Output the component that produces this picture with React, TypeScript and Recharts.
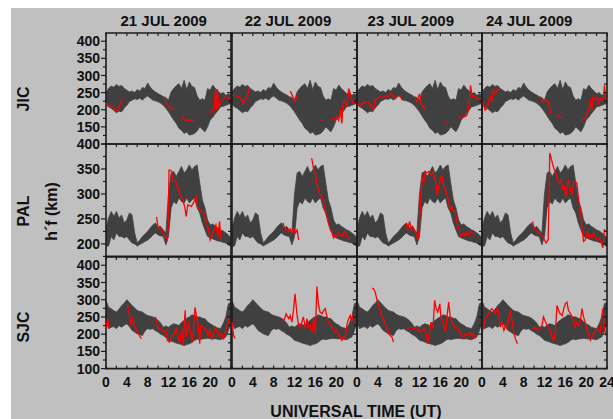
import React from 'react';
import { ComposedChart, Area, Line, XAxis, YAxis, ReferenceArea } from 'recharts';

// half-hour grid used by the quiet-time bands
const HOURS = [
  0, 0.5, 1, 1.5, 2, 2.5, 3, 3.5, 4, 4.5, 5, 5.5, 6, 6.5, 7, 7.5, 8, 8.5, 9, 9.5,
  10, 10.5, 11, 11.5, 12, 12.5, 13, 13.5, 14, 14.5, 15, 15.5, 16, 16.5, 17, 17.5,
  18, 18.5, 19, 19.5, 20, 20.5, 21, 21.5, 22, 22.5, 23, 23.5, 24,
];

const DAYS = ['21 JUL 2009', '22 JUL 2009', '23 JUL 2009', '24 JUL 2009'];
const X_TICKS = [0, 2, 4, 6, 8, 10, 12, 14, 16, 18, 20, 22, 24];
const Y_TICKS_WIDE = [100, 125, 150, 175, 200, 225, 250, 275, 300, 325, 350, 375, 400];
const Y_TICKS_PAL = [175, 200, 225, 250, 275, 300, 325, 350, 375, 400];

// band upper / lower edges (km)
const JIC_HI = [252, 262, 269, 266, 274, 268, 271, 262, 257, 252, 255, 250, 259, 254, 265, 262, 278, 266, 257, 252, 247, 243, 238, 236, 228, 252, 262, 270, 276, 262, 286, 258, 281, 268, 265, 240, 228, 232, 228, 262, 257, 272, 262, 255, 247, 250, 242, 246, 242];
const JIC_LO = [218, 208, 204, 198, 191, 196, 194, 205, 213, 224, 228, 232, 230, 234, 228, 236, 240, 234, 228, 226, 223, 219, 213, 204, 194, 182, 170, 160, 146, 140, 131, 135, 126, 128, 131, 138, 150, 142, 136, 150, 170, 178, 189, 198, 209, 210, 213, 216, 218];
const PAL_HI = [232, 252, 265, 255, 265, 252, 258, 242, 248, 262, 258, 222, 202, 208, 215, 220, 225, 232, 238, 242, 232, 235, 228, 222, 300, 342, 345, 335, 345, 355, 342, 348, 358, 348, 355, 358, 322, 288, 272, 248, 238, 240, 235, 232, 228, 226, 222, 218, 212];
const PAL_LO = [195, 196, 215, 208, 222, 215, 215, 212, 215, 208, 202, 200, 196, 199, 202, 205, 208, 212, 218, 222, 218, 216, 215, 198, 215, 272, 285, 280, 292, 285, 282, 292, 282, 288, 292, 272, 262, 242, 228, 215, 212, 210, 208, 206, 205, 203, 202, 198, 195];
const SJC_HI = [298, 278, 274, 268, 264, 272, 283, 290, 300, 292, 283, 276, 269, 266, 264, 258, 254, 252, 250, 246, 240, 232, 220, 224, 220, 226, 230, 228, 225, 234, 240, 246, 250, 256, 254, 250, 250, 246, 245, 236, 230, 226, 220, 218, 216, 230, 250, 288, 293];
const SJC_LO = [235, 216, 220, 222, 216, 225, 220, 226, 230, 222, 211, 206, 201, 198, 196, 210, 216, 214, 216, 210, 206, 200, 196, 190, 182, 180, 177, 174, 172, 170, 167, 170, 172, 176, 182, 186, 184, 186, 187, 188, 187, 186, 187, 185, 184, 188, 192, 210, 235];

type Pt = [number, number | null];

// observed h'F, [UT hour, km]; null marks a data gap
const JIC_21: Pt[] = [[0, 218], [0.45, 213], [1.1, 210], [1.7, 201], [2.2, 197], [2.5, 207], [2.8, 218], [3.2, 233], [3.3, null],
  [11.3, 233], [11.5, 218], [12, 212], [12.5, 205], [13, 200], [13.1, null],
  [14.5, 181], [15, 172], [15.5, 168], [16, 170], [16.5, 167], [17, 165], [17.1, null],
  [20, 191], [20.5, 199], [20.8, 200], [21, 262], [21.2, 199], [21.4, 260], [21.6, 209], [22.2, 228], [22.9, 238], [23.5, 233], [24, 236]];
const JIC_22: Pt[] = [[0.1, 242], [0.6, 242], [1.3, 238], [1.9, 228], [2.2, 218], [2.7, 233], [3.0, 242], [3.3, 265], [3.4, null],
  [11.2, 255], [11.7, 238], [12.1, 223], [12.5, 242], [12.6, null],
  [16.9, 173], [17.3, 168], [17.4, null],
  [19.2, 175], [19.5, 170], [20.1, 180], [20.5, 168], [20.8, 199], [21.1, 160], [21.3, 218], [21.7, 228], [22.1, 209], [22.4, 262], [22.7, 247], [23.0, 228], [23.3, 218], [23.7, 228]];
const JIC_23: Pt[] = [[0.1, 218], [0.6, 209], [1.0, 218], [1.6, 223], [2.2, 223], [2.7, 209], [3.1, 199], [3.5, 228], [3.9, 233], [4.4, 238], [5.1, 236], [5.6, 242], [6.1, 238], [6.5, 247], [7.0, 240], [7.4, 233], [7.7, 238], [7.8, null],
  [8.3, 242], [8.6, 230], [9.0, 228], [9.1, null],
  [11.2, 233], [11.5, 223], [12.0, 247], [12.3, 218], [12.7, 209], [13.1, 199], [13.2, null],
  [17.0, 165], [17.3, 160], [17.4, null],
  [19.5, 175], [20.2, 180], [20.8, 180], [21.1, 184], [21.4, 199], [21.8, 271], [22.1, 238], [22.4, 242], [23.0, 233], [23.7, 228], [24, 230]];
const JIC_24: Pt[] = [[0.2, 223], [0.6, 199], [1.0, 204], [1.3, 228], [1.6, 238], [1.9, 228], [2.2, 257], [2.6, 247], [2.9, 257], [3.4, 262], [3.5, null],
  [11.2, 233], [11.8, 223], [12.5, 228], [12.8, 218], [13.2, 189], [13.3, null],
  [14.4, 181], [15.4, 178], [15.5, null],
  [19.2, 170], [19.8, 175], [20.2, 189], [20.5, 199], [20.8, 228], [21.1, 199], [21.3, 236], [21.8, 228], [22.1, 238], [22.4, 218], [22.7, 233], [23.0, 228], [23.4, 238], [23.5, 271], [23.8, 228]];

const PAL_21: Pt[] = [[9.7, 254], [10.0, 232], [10.3, 235], [10.8, 227], [11.1, 218], [11.4, 215], [11.7, 208], [11.9, 225], [12.1, 348], [12.5, 347], [12.9, 328], [13.5, 322], [14.1, 302], [14.6, 292], [15.1, 275], [15.4, 255], [15.7, 278], [16.4, 275], [16.8, 282], [17.3, 295], [17.6, 272], [18.3, 265], [18.7, 265], [19.2, 245], [19.7, 228], [20.0, 208], [20.5, 222], [21.1, 238], [21.5, 215], [21.8, 245], [22.1, 208]];
const PAL_22: Pt[] = [[9.8, 242], [10.0, 234], [10.4, 228], [10.9, 225], [11.2, 230], [11.5, 222], [11.8, 232], [12.2, 222], [12.5, 228], [12.8, 208], [12.9, null],
  [15.3, 372], [15.7, 348], [16.0, 342], [16.3, 322], [16.6, 308], [16.9, 298], [17.3, 295], [17.6, 282], [17.9, 265], [18.2, 255], [18.5, 242], [18.9, 228], [19.2, 222], [19.5, 212], [19.8, 218], [20.1, 215], [20.5, 222], [20.8, 218], [21.1, 215], [21.4, 222], [21.7, 225], [22.1, 215], [22.4, 208]];
const PAL_23: Pt[] = [[9.5, 242], [9.7, 228], [10.1, 245], [10.4, 228], [10.7, 235], [11.2, 225], [11.5, 215], [11.8, 208], [12.0, 242], [12.3, 308], [12.7, 332], [12.9, 328], [13.1, 345], [13.4, 342], [13.8, 345], [14.2, 338], [14.6, 345], [14.8, 332], [15.0, 335], [15.4, 298], [15.7, 315], [16.0, 328], [16.3, 338], [16.6, 318], [17.0, 308], [17.3, 298], [17.6, 282], [17.9, 268], [18.2, 275], [18.6, 265], [18.9, 265], [19.2, 242], [19.5, 232], [19.8, 218], [20.1, 215], [20.5, 222], [20.8, 215], [21.1, 222], [21.4, 218], [21.8, 225], [22.1, 222], [22.4, 218], [22.7, 215]];
const PAL_24: Pt[] = [[9.7, 245], [10.0, 232], [10.4, 228], [10.9, 222], [11.2, 218], [11.7, 215], [12.0, 208], [12.3, 202], [12.7, 208], [12.9, 308], [13.0, 382], [13.2, 375], [13.6, 358], [13.9, 348], [14.2, 342], [14.5, 325], [14.8, 322], [15.2, 328], [15.5, 308], [15.8, 318], [16.1, 292], [16.3, 312], [16.6, 328], [17.0, 308], [17.3, 298], [17.6, 325], [17.9, 325], [18.2, 322], [18.6, 285], [18.9, 268], [19.2, 232], [19.5, 205], [19.8, 208], [20.2, 225], [20.5, 212], [20.8, 218], [21.1, 212], [21.4, 222], [21.8, 215], [22.1, 208], [22.5, 212], [22.8, 205], [23.2, 192], [23.5, 228], [23.8, 225]];

const SJC_21: Pt[] = [[0, 220], [0.3, 245], [0.6, 216], [0.7, null],
  [4.1, 288], [4.4, 264], [4.8, 225], [5.1, 250], [5.4, 225], [5.9, 211], [6.4, 196], [6.8, 187], [6.9, null],
  [9.5, 250], [10.0, 216], [10.6, 216], [11.0, 206], [11.5, 211], [11.8, 182], [12.2, 177], [12.7, 196], [13.1, 201], [13.5, 216], [13.9, 187], [14.2, 177], [14.5, 216], [14.8, 167], [15.2, 269], [15.4, 192], [15.9, 235], [16.2, 206], [16.6, 177], [16.9, 235], [17.1, 278], [17.4, 250], [17.7, 225], [18.0, 172], [18.2, 225], [18.7, 220], [19.2, 211], [19.6, 196], [19.9, 211], [20.3, 187], [20.7, 201], [21.0, 220], [21.4, 206], [21.8, 192], [22.2, 201], [22.6, 187], [23.0, 211], [23.5, 235], [23.7, 250]];
const SJC_22: Pt[] = [[0, 235], [0.3, 196], [0.6, 187], [0.7, null],
  [9.6, 245], [10.0, 240], [10.4, 259], [10.9, 245], [11.2, 254], [11.5, 235], [11.8, 269], [12.1, 317], [12.5, 254], [12.8, 225], [13.1, 220], [13.4, 235], [13.7, 250], [14.1, 216], [14.4, 245], [14.7, 220], [15.0, 225], [15.4, 206], [15.7, 250], [16.0, 201], [16.3, 338], [16.6, 288], [16.9, 264], [17.3, 259], [17.6, 269], [17.9, 274], [18.2, 254], [18.5, 235], [18.9, 230], [19.2, 220], [19.5, 216], [19.8, 206], [20.1, 211], [20.5, 196], [20.8, 192], [21.1, 182], [21.4, 192], [21.7, 187], [22.1, 230], [22.4, 245], [22.7, 254], [23.0, 235], [23.3, 259]];
const SJC_23: Pt[] = [[2.9, 334], [3.2, 331], [3.5, 322], [3.8, 302], [4.2, 283], [4.5, 264], [4.8, 250], [5.1, 240], [5.4, 230], [5.8, 216], [6.1, 201], [6.4, 196], [6.7, 192], [7.0, 177], [7.1, null],
  [9.5, 211], [9.9, 216], [10.2, 220], [10.9, 216], [11.5, 220], [11.8, 211], [12.3, 206], [12.8, 216], [13.3, 201], [13.6, 172], [13.9, 201], [14.2, 235], [14.6, 216], [14.9, 298], [15.2, 274], [15.5, 264], [15.9, 288], [16.1, 250], [16.5, 235], [17.0, 206], [17.3, 254], [17.6, 293], [17.9, 250], [18.2, 235], [18.6, 225], [18.9, 216], [19.3, 220], [19.7, 206], [20.0, 196], [20.5, 192], [20.8, 201], [21.1, 196], [21.4, 201], [21.8, 206], [22.1, 192], [22.4, 201], [22.7, 187]];
const SJC_24: Pt[] = [[0.2, 211], [0.5, 235], [0.8, 250], [1.3, 259], [1.6, 269], [1.9, 274], [2.2, 269], [2.6, 259], [2.9, 274], [3.2, 264], [3.5, 220], [3.8, 235], [4.2, 211], [4.5, 225], [4.8, 216], [5.1, 240], [5.4, 269], [5.8, 235], [6.1, 206], [6.4, 187], [6.8, 172], [6.9, null],
  [9.6, 220], [9.9, 216], [10.2, 220], [10.7, 211], [11.1, 216], [11.5, 225], [11.8, 250], [12.2, 235], [12.5, 225], [12.8, 216], [13.1, 211], [13.4, 192], [13.8, 182], [14.1, 211], [14.4, 283], [14.7, 269], [15.0, 259], [15.4, 254], [15.7, 274], [16.0, 288], [16.3, 293], [16.6, 269], [17.0, 259], [17.3, 250], [17.6, 240], [17.9, 220], [18.2, 235], [18.6, 225], [18.9, 240], [19.2, 274], [19.5, 250], [19.8, 235], [20.2, 211], [20.5, 196], [20.8, 182], [21.1, 192], [21.4, 201], [21.8, 211], [22.1, 216], [22.4, 211], [22.7, 206], [23.0, 250], [23.2, 274], [23.5, 220], [23.8, 196]];

const STATIONS = [
  { name: 'JIC', hi: JIC_HI, lo: JIC_LO, domain: [100, 424], ticks: Y_TICKS_WIDE, red: [JIC_21, JIC_22, JIC_23, JIC_24] },
  { name: 'PAL', hi: PAL_HI, lo: PAL_LO, domain: [175, 400], ticks: Y_TICKS_PAL, red: [PAL_21, PAL_22, PAL_23, PAL_24] },
  { name: 'SJC', hi: SJC_HI, lo: SJC_LO, domain: [100, 424], ticks: Y_TICKS_WIDE, red: [SJC_21, SJC_22, SJC_23, SJC_24] },
];

const COL_X = [106, 231.7, 356.7, 481.7];
const ROW_Y = [33.3, 144.3, 256.7];
const ROW_H = [111, 112.4, 111.6];
const PLOT_W = 125;
const Y_AXIS_W = 45;
const M_TOP = 12;
const M_RIGHT = 14;
const X_AXIS_H = 25;

const FONT = '"Liberation Sans", Arial, sans-serif';
const AXIS = '#1c1c1c';
const BAND = '#404040';
const INK = '#111111';

function makeXTick(row: number, col: number, plotH: number) {
  return (props: any) => {
    const { x, y, payload } = props;
    const v = payload.value as number;
    const label = row === 2 && v % 4 === 0 && (v < 24 || col === 3);
    return (
      <g>
        <line x1={x} x2={x} y1={y - plotH} y2={y - plotH + 3} stroke={AXIS} strokeWidth={1.2} />
        {row === 2 && <line x1={x} x2={x} y1={y} y2={y - 3} stroke={AXIS} strokeWidth={1.2} />}
        {label && (
          <text x={x} y={y + 18.5} textAnchor="middle" fontFamily={FONT} fontWeight="bold" fontSize={14} fill={INK}>
            {v}
          </text>
        )}
      </g>
    );
  };
}

function makeYTick(row: number, col: number) {
  return (props: any) => {
    const { x, y, payload } = props;
    const v = payload.value as number;
    const major = v % 50 === 0;
    const label = col === 0 && major && !(row === 0 && v === 100);
    return (
      <g>
        {col === 0 && <line x1={x - (major ? 5 : 3)} x2={x} y1={y} y2={y} stroke={AXIS} strokeWidth={1.2} />}
        <line x1={x + PLOT_W - (major ? 4 : 3)} x2={x + PLOT_W} y1={y} y2={y} stroke={AXIS} strokeWidth={1.2} />
        {label && (
          <text x={x - 6} y={y} dy="0.36em" textAnchor="end" fontFamily={FONT} fontWeight="bold" fontSize={14} fill={INK}>
            {v}
          </text>
        )}
      </g>
    );
  };
}

function Panel({ row, col }: { row: number; col: number }) {
  const st = STATIONS[row];
  const plotH = ROW_H[row];
  const data = HOURS.map((h, i) => ({ h, band: [st.lo[i], st.hi[i]] }));
  const red = st.red[col].map(([h, v]) => ({ h, v }));
  return (
    <div style={{ position: 'absolute', left: COL_X[col] - Y_AXIS_W, top: ROW_Y[row] - M_TOP }}>
      <ComposedChart
        width={Y_AXIS_W + PLOT_W + M_RIGHT}
        height={M_TOP + plotH + X_AXIS_H}
        data={data}
        margin={{ top: M_TOP, right: M_RIGHT, bottom: 0, left: 0 }}
      >
        <XAxis
          dataKey="h"
          type="number"
          domain={[0, 24]}
          ticks={X_TICKS}
          interval={0}
          height={X_AXIS_H}
          axisLine={false}
          tickLine={false}
          tickSize={0}
          tickMargin={0}
          tick={makeXTick(row, col, plotH)}
        />
        <YAxis
          type="number"
          domain={st.domain}
          ticks={st.ticks}
          interval={0}
          width={Y_AXIS_W}
          axisLine={false}
          tickLine={false}
          tickSize={0}
          tickMargin={0}
          allowDataOverflow
          tick={makeYTick(row, col)}
        />
        <Area
          dataKey="band"
          type="linear"
          fill={BAND}
          fillOpacity={1}
          stroke={BAND}
          strokeWidth={0.8}
          isAnimationActive={false}
        />
        <Line
          data={red}
          dataKey="v"
          type="linear"
          stroke="#ff0000"
          strokeWidth={1.3}
          dot={false}
          connectNulls={false}
          isAnimationActive={false}
        />
        <ReferenceArea
          x1={0}
          x2={24}
          y1={st.domain[0]}
          y2={st.domain[1]}
          fill="none"
          fillOpacity={0}
          stroke={AXIS}
          strokeWidth={1.6}
        />
      </ComposedChart>
    </div>
  );
}

const TITLE_X = [163.7, 288, 410.8, 529.2];
const ROW_LABEL_Y = [99, 211, 327];

export default function App() {
  return (
    <div style={{ position: 'absolute', left: 0, top: 0, width: 613, height: 419, background: '#ffffff', overflow: 'hidden' }}>
      <div style={{ position: 'absolute', left: 11, top: 8, width: 602, height: 411, background: '#c0c0c0' }} />
      {STATIONS.map((_, row) => [0, 1, 2, 3].map((col) => <Panel key={`${row}-${col}`} row={row} col={col} />))}
      <svg width={613} height={419} style={{ position: 'absolute', left: 0, top: 0, pointerEvents: 'none' }}>
        {DAYS.map((d, i) => (
          <text key={d} x={TITLE_X[i]} y={26} textAnchor="middle" fontFamily={FONT} fontWeight="bold" fontSize={15} fill={INK}>
            {d}
          </text>
        ))}
        {STATIONS.map((st, i) => (
          <text
            key={st.name}
            transform={`translate(29,${ROW_LABEL_Y[i]}) rotate(-90)`}
            textAnchor="middle"
            fontFamily={FONT}
            fontWeight="bold"
            fontSize={16}
            fill={INK}
          >
            {st.name}
          </text>
        ))}
        <text transform="translate(57,211.5) rotate(-90)" textAnchor="middle" fontFamily={FONT} fontWeight="bold" fontSize={16} fill={INK}>
          h´f (km)
        </text>
        <text x={356} y={416.5} textAnchor="middle" fontFamily={FONT} fontWeight="bold" fontSize={16} fill={INK}>
          UNIVERSAL TIME (UT)
        </text>
      </svg>
    </div>
  );
}
